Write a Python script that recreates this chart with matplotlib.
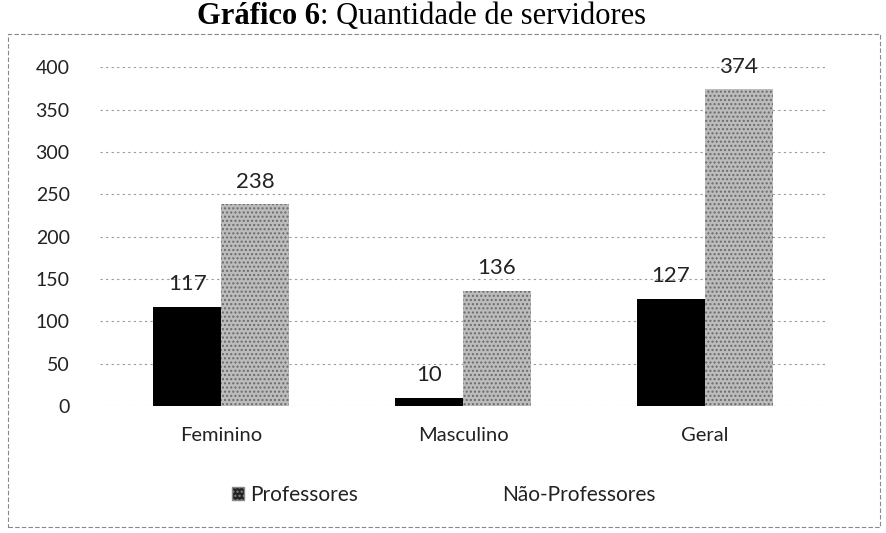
import numpy as np
import matplotlib
matplotlib.use("Agg")
import matplotlib.pyplot as plt
from matplotlib.patches import Patch, Rectangle

categorias = ["Feminino", "Masculino", "Geral"]
professores = [117, 10, 127]
nao_professores = [238, 136, 374]
series = ["Professores", "Não-Professores"]

plt.rcParams['font.family'] = ['Lato', 'DejaVu Sans']

fig = plt.figure(figsize=(8.87, 5.33), dpi=100)
ax = fig.add_axes([0.113, 0.238, 0.818, 0.636])

x = np.arange(len(categorias))
w = 0.28
b1 = ax.bar(x - w / 2, professores, w, color="black", edgecolor="black", linewidth=0)
b2 = ax.bar(x + w / 2, nao_professores, w, color="#bcbcbc", edgecolor="#6a6a6a",
            hatch="....", linewidth=0)

# rotulos de dados
for bars, vals in ((b1, professores), (b2, nao_professores)):
    for r, v in zip(bars, vals):
        ax.annotate(str(v), (r.get_x() + r.get_width() / 2, v), xytext=(0, 9),
                    textcoords="offset points", ha="center", va="bottom",
                    fontsize=16, color="#222222")

ax.set_ylim(0, 400)
ax.set_xlim(-0.5, 2.5)
ax.set_yticks(range(0, 401, 50))
ax.set_xticks(x)
ax.set_xticklabels(categorias)
ax.tick_params(axis="y", length=0, pad=22, labelsize=14, labelcolor="#222222")
ax.tick_params(axis="x", length=0, pad=15, labelsize=14.5, labelcolor="#222222")
ax.grid(axis="y", linestyle=(0, (2, 3)), color="#999999", linewidth=0.8)
ax.set_axisbelow(True)
for s in ax.spines.values():
    s.set_visible(False)

handles = [Patch(facecolor="#222222", edgecolor="#888888", hatch="...."),
           Patch(facecolor="white", edgecolor="white")]
fig.legend(handles, series, loc="center", bbox_to_anchor=(0.5, 0.072), ncol=2,
           frameon=False, fontsize=15, handlelength=0.6, handleheight=0.6,
           handletextpad=0.3, columnspacing=6.0, labelcolor="#222222")

# moldura do grafico
fig.add_artist(Rectangle((0.009, 0.012), 0.983, 0.925, transform=fig.transFigure,
                         fill=False, edgecolor="#888888", linewidth=0.8,
                         linestyle=(0, (4, 2))))

# titulo
fig.text(0.361, 0.955, "Gráfico 6", fontsize=22, fontweight="bold",
         family="Liberation Serif", ha="right", va="baseline")
fig.text(0.361, 0.955, ": Quantidade de servidores", fontsize=22,
         family="Liberation Serif", ha="left", va="baseline")

fig.savefig("out.png", dpi=100)
